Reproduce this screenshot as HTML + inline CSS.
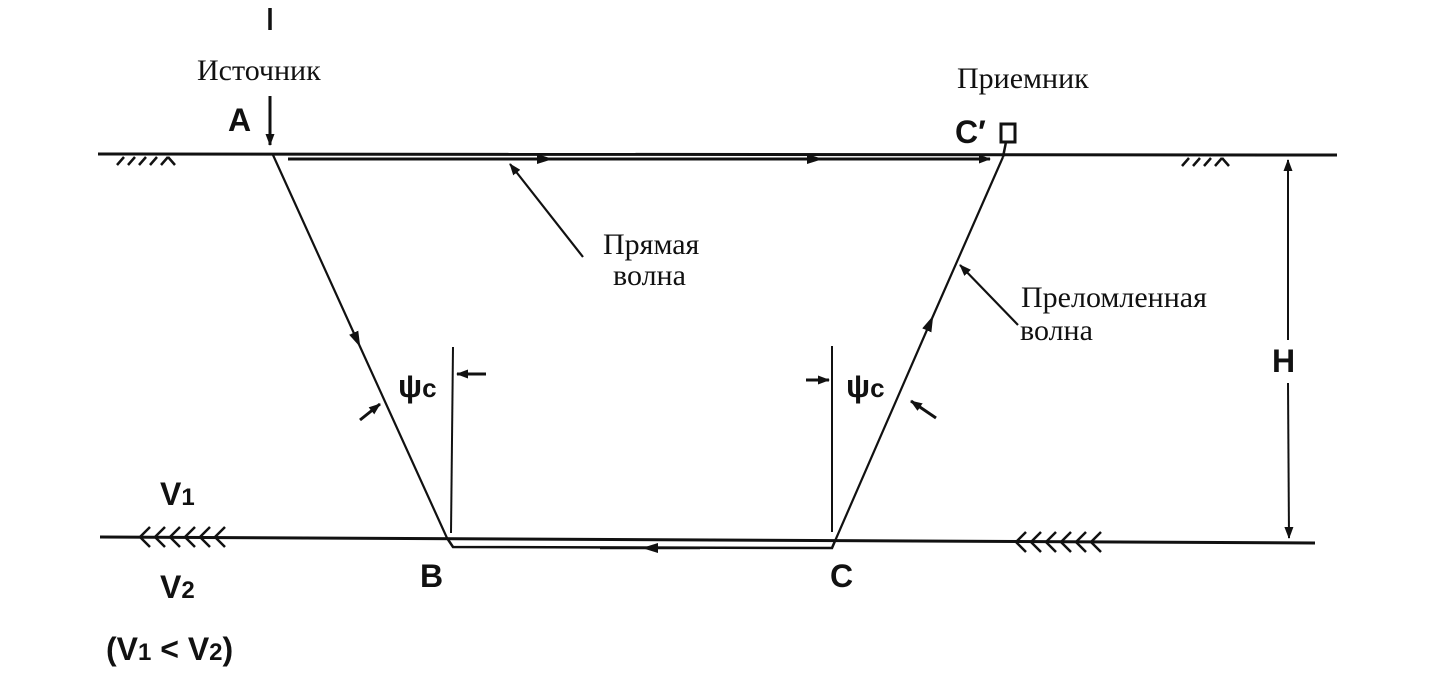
<!DOCTYPE html>
<html><head><meta charset="utf-8"><style>
html,body{margin:0;padding:0;background:#fff;}
svg{display:block;}
.s{font-family:"Liberation Serif",serif;font-size:30px;fill:#111;}
.a{font-family:"Liberation Sans",sans-serif;font-size:32px;fill:#111;font-weight:bold;}
</style></head><body>
<svg width="1431" height="678" viewBox="0 0 1431 678" xmlns="http://www.w3.org/2000/svg">
<defs>
<marker id="ah" markerWidth="12" markerHeight="9" refX="11" refY="4.5" orient="auto" markerUnits="userSpaceOnUse"><path d="M0,0 L12,4.5 L0,9 Z" fill="#111"/></marker>
<marker id="mh" markerWidth="16" markerHeight="10" refX="8" refY="5" orient="auto" markerUnits="userSpaceOnUse"><path d="M0,0 L16,5 L0,10 Z" fill="#111"/></marker>
</defs>
<g stroke="#111" fill="none">
<line x1="98" y1="154" x2="1337" y2="155" stroke-width="3"/>
<line x1="100" y1="537" x2="1315" y2="543" stroke-width="3"/>
<line x1="270" y1="8" x2="270" y2="30" stroke-width="3.5"/>
<line x1="270" y1="96" x2="270" y2="145" stroke-width="3" marker-end="url(#ah)"/>
<polyline points="273,155 357,340 447,538" stroke-width="2.2" marker-mid="url(#mh)"/>
<polyline points="288,159 545,159 815,159 990,159" stroke-width="3" marker-mid="url(#mh)" marker-end="url(#ah)"/>
<line x1="583" y1="257" x2="510" y2="164" stroke-width="2.2" marker-end="url(#ah)"/>
<rect x="1001" y="124" width="14" height="18" stroke-width="3"/>
<line x1="1006" y1="142" x2="1003" y2="157" stroke-width="2.5"/>
<polyline points="835,541 930,323 1003,157" stroke-width="2.2" marker-mid="url(#mh)"/>
<line x1="1018" y1="325" x2="960" y2="265" stroke-width="2.2" marker-end="url(#ah)"/>
<polyline points="835,541 832,548 453,547 447,538" stroke-width="2.5"/>
<polyline points="700,548 650,548 600,548" stroke-width="2.5" marker-mid="url(#mh)"/>
<line x1="453" y1="347" x2="451" y2="533" stroke-width="2"/>
<line x1="832" y1="346" x2="832" y2="532" stroke-width="2"/>
<line x1="486" y1="374" x2="457" y2="374" stroke-width="3" marker-end="url(#ah)"/>
<line x1="806" y1="380" x2="829" y2="380" stroke-width="3" marker-end="url(#ah)"/>
<line x1="360" y1="420" x2="380" y2="404" stroke-width="3" marker-end="url(#ah)"/>
<line x1="936" y1="418" x2="911" y2="401" stroke-width="3" marker-end="url(#ah)"/>
<line x1="1288" y1="340" x2="1288" y2="160" stroke-width="2" marker-end="url(#ah)"/>
<line x1="1288" y1="383" x2="1289" y2="538" stroke-width="2" marker-end="url(#ah)"/>
<path d="M150,527 L140,537 L150,547 M165,527 L155,537 L165,547 M180,527 L170,537 L180,547 M195,527 L185,537 L195,547 M210,527 L200,537 L210,547 M225,527 L215,537 L225,547" stroke-width="2.5"/>
<path d="M1026,532 L1016,542 L1026,552 M1041,532 L1031,542 L1041,552 M1056,532 L1046,542 L1056,552 M1071,532 L1061,542 L1071,552 M1086,532 L1076,542 L1086,552 M1101,532 L1091,542 L1101,552" stroke-width="2.5"/>
<path d="M117,165 L124,157 M128,165 L135,157 M139,165 L146,157 M150,165 L157,157 M161,165 L168,157 M168,157 L175,165" stroke-width="2.5"/>
<path d="M1182,166 L1189,158 M1193,166 L1200,158 M1204,166 L1211,158 M1215,166 L1222,158 M1222,158 L1229,166" stroke-width="2.5"/>
</g>
<text class="s" x="197" y="80">Источник</text>
<text class="a" x="228" y="131">A</text>
<text class="s" x="957" y="88">Приемник</text>
<text class="a" x="955" y="143">C′</text>
<text class="s" x="603" y="254">Прямая</text>
<text class="s" x="613" y="285">волна</text>
<text class="s" x="1021" y="307">Преломленная</text>
<text class="s" x="1020" y="340">волна</text>
<text class="a" x="1272" y="372" font-size="36">H</text>
<text class="a" x="398" y="397" font-size="32">ψ<tspan font-size="26">c</tspan></text>
<text class="a" x="846" y="397" font-size="32">ψ<tspan font-size="26">c</tspan></text>
<text class="a" x="160" y="505" font-size="34">V<tspan font-size="24">1</tspan></text>
<text class="a" x="160" y="598" font-size="34">V<tspan font-size="24">2</tspan></text>
<text class="a" x="106" y="660" font-size="34">(V<tspan font-size="24">1</tspan> &lt; V<tspan font-size="24">2</tspan>)</text>
<text class="a" x="420" y="587">B</text>
<text class="a" x="830" y="587">C</text>
</svg>
</body></html>
